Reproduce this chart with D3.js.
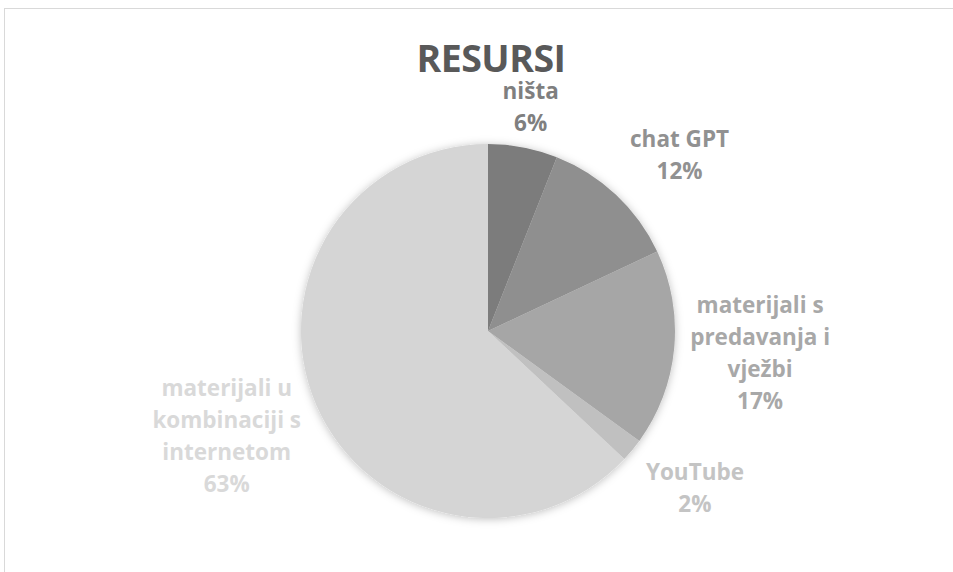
<!DOCTYPE html>
<html>
<head>
<meta charset="utf-8">
<script src="https://cdn.jsdelivr.net/npm/d3@7"></script>
<style>
  body { margin: 0; background: #fff; }
  svg { display: block; }
</style>
</head>
<body>
<svg id="chart" width="953" height="572"></svg>
<script>
// data
var title = "RESURSI";
var categories = ["ništa", "chat GPT", "materijali s predavanja i vježbi", "YouTube", "materijali u kombinaciji s internetom"];
var shares = [6, 12, 17, 2, 63];
var sliceColors = ["#7c7c7c", "#8f8f8f", "#a6a6a6", "#c0c0c0", "#d5d5d5"];
var labelColors = ["#7f7f7f", "#919191", "#a8a8a8", "#c4c4c4", "#d9d9d9"];
// small hand nudges of the label boxes (layout only), px
var labelNudge = [[0, 0], [28, -2], [8, -3], [18, 1], [-8, -4]];

var W = 953, H = 572;
var cx = 488, cy = 331, R = 187;
var font = "'Open Sans', sans-serif";

var svg = d3.select("#chart");

// chart area border
svg.append("rect")
  .attr("x", 4.5).attr("y", 8.5)
  .attr("width", W + 10).attr("height", H + 10)
  .attr("fill", "#fff").attr("stroke", "#d9d9d9").attr("stroke-width", 1);

var defs = svg.append("defs");
var f = defs.append("filter").attr("id", "shadow")
  .attr("x", "-20%").attr("y", "-20%").attr("width", "140%").attr("height", "140%");
f.append("feDropShadow").attr("dx", 0).attr("dy", 1).attr("stdDeviation", 4)
  .attr("flood-color", "#000").attr("flood-opacity", 0.25);

svg.append("text")
  .attr("x", 491).attr("y", 72)
  .attr("text-anchor", "middle")
  .attr("font-family", font).attr("font-weight", 700).attr("font-size", 37.5)
  .attr("letter-spacing", -0.5)
  .attr("fill", "#595959")
  .text(title);

var pie = d3.pie().sort(null).value(function(d) { return d; });
var arcs = pie(shares);
var arc = d3.arc().innerRadius(0).outerRadius(R);

var g = svg.append("g").attr("transform", "translate(" + cx + "," + cy + ")");

g.append("g").attr("filter", "url(#shadow)")
  .selectAll("path").data(arcs).enter().append("path")
  .attr("d", arc)
  .attr("fill", function(d, i) { return sliceColors[i]; });

// labels: wrap name, then the percent
var lineH = 32, maxW = 160, fs = 22.5;

function wrap(name) {
  var tmp = svg.append("text").attr("font-family", font).attr("font-weight", 700).attr("font-size", fs);
  var words = name.split(" "), lines = [], cur = "";
  words.forEach(function(w) {
    var test = cur ? cur + " " + w : w;
    tmp.text(test);
    if (cur && tmp.node().getComputedTextLength() > maxW) { lines.push(cur); cur = w; }
    else cur = test;
  });
  lines.push(cur);
  tmp.remove();
  return lines;
}

var gap = 8;
arcs.forEach(function(d, i) {
  var lines = wrap(categories[i]);
  lines.push(shares[i] + "%");
  var t = g.append("text")
    .attr("text-anchor", "middle")
    .attr("font-family", font).attr("font-weight", 700).attr("font-size", fs)
    .attr("fill", labelColors[i]);
  lines.forEach(function(l, k) {
    t.append("tspan").attr("x", 0).attr("y", (k - (lines.length - 1) / 2) * lineH + fs * 0.35).text(l);
  });
  var bb = t.node().getBBox();
  var hw = bb.width / 2, hh = lines.length * lineH / 2;
  var a = (d.startAngle + d.endAngle) / 2;
  var s = Math.abs(Math.sin(a)), c = Math.abs(Math.cos(a));
  var ext = Math.min(s > 1e-6 ? hw / s : 1e9, c > 1e-6 ? hh / c : 1e9);
  var r = R + gap + ext;
  var x = Math.sin(a) * r + labelNudge[i][0], y = -Math.cos(a) * r + labelNudge[i][1];
  t.attr("transform", "translate(" + x + "," + y + ")");
});
</script>
</body>
</html>
